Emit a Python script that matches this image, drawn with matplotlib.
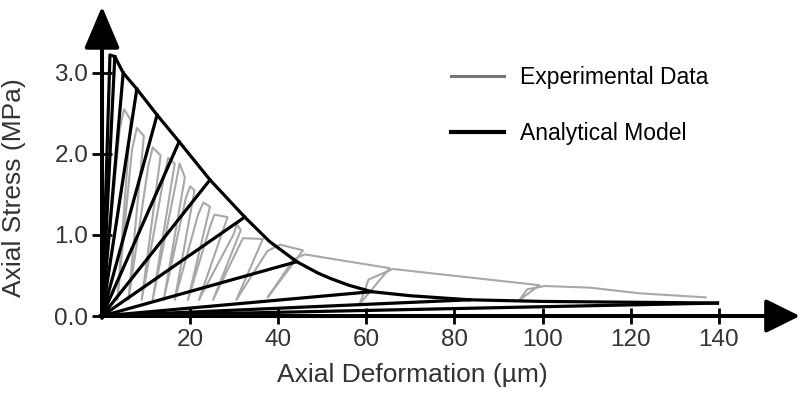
import matplotlib
matplotlib.use("Agg")
import matplotlib.pyplot as plt
from matplotlib.lines import Line2D

plt.rcParams['font.family'] = ['Liberation Sans', 'DejaVu Sans']

# analytical model: backbone (envelope) curve, um / MPa
envelope_x = [0, 1.8, 2.9, 4.8, 7.9, 12.5, 17.5, 24.5, 32.4, 38.0, 44.2, 49.0, 52.0,
              56.0, 61.2, 70.0, 83.4, 100.0, 120.0, 139.7]
envelope_y = [0, 3.22, 3.20, 3.00, 2.80, 2.48, 2.15, 1.68, 1.22, 0.92, 0.67, 0.53, 0.46,
              0.38, 0.30, 0.25, 0.20, 0.18, 0.17, 0.16]

# points on the envelope from which the model unloads back to the origin
unload_x = [2.9, 4.8, 7.9, 12.5, 17.5, 24.5, 32.4, 44.2, 61.2, 83.4, 139.7]
unload_y = [3.20, 3.00, 2.80, 2.48, 2.15, 1.68, 1.22, 0.67, 0.30, 0.20, 0.16]

# experimental cyclic test
exp_x = [0, 4.0, 5.0, 6.5, 3.5,
         6.8, 7.9, 9.5, 6.0,
         10.5, 11.5, 13.3, 9.0,
         14.0, 15.0, 16.5, 11.5,
         16.8, 17.6, 18.8, 14.0,
         19.0, 20.0, 21.0, 16.5,
         21.8, 23.0, 24.5, 19.5,
         24.5, 25.5, 28.5, 22.0,
         29.8, 30.6, 31.5, 25.2,
         31.0, 32.0, 36.5, 30.5,
         37.5, 40.4, 45.6, 37.6,
         43.5, 46.0, 65.3, 58.5,
         60.5, 66.0, 99.3, 94.8,
         96.5, 100.5, 110.7, 122.0, 137.0]
exp_y = [0, 2.30, 2.55, 2.42, 0.20,
         2.05, 2.32, 2.22, 0.20,
         1.85, 2.08, 1.98, 0.20,
         1.70, 1.95, 1.88, 0.20,
         1.65, 1.88, 1.71, 0.20,
         1.45, 1.60, 1.55, 0.20,
         1.25, 1.40, 1.35, 0.20,
         1.10, 1.25, 1.22, 0.20,
         1.00, 1.13, 1.06, 0.20,
         0.85, 0.96, 0.95, 0.20,
         0.80, 0.88, 0.81, 0.23,
         0.70, 0.76, 0.59, 0.15,
         0.45, 0.58, 0.38, 0.20,
         0.33, 0.37, 0.35, 0.28, 0.23]

x_ticks = [20, 40, 60, 80, 100, 120, 140]
y_ticks = [0, 1, 2, 3]
y_labels = ["0.0", "1.0", "2.0", "3.0"]

fig = plt.figure(figsize=(8.04, 3.98), dpi=100)
ax = fig.add_axes([0.1269, 0.206, 0.868, 0.774])

ax.plot(exp_x, exp_y, color="#a8a8a8", lw=1.5, zorder=2)
for ux, uy in zip(unload_x, unload_y):
    ax.plot([0, ux], [0, uy], color="black", lw=2.3, zorder=3)
ax.plot(envelope_x, envelope_y, color="black", lw=2.3, zorder=3)

ax.set_xlim(0, 158.4)
ax.set_ylim(0, 3.8)

for s in ax.spines.values():
    s.set_visible(False)

# axes drawn as arrows
arrow_y = dict(arrowstyle="-|>,head_length=1.3,head_width=0.55", color="black",
               lw=2.9, mutation_scale=20, shrinkA=0, shrinkB=0)
arrow_x = dict(arrowstyle="-|>,head_length=1.05,head_width=0.52", color="black",
               lw=2.9, mutation_scale=20, shrinkA=0, shrinkB=0)
ax.annotate("", xy=(1, 0), xytext=(-0.003, 0), xycoords="axes fraction",
            arrowprops=arrow_x, zorder=5)
ax.annotate("", xy=(0, 1.005), xytext=(0, -0.006), xycoords="axes fraction",
            arrowprops=arrow_y, zorder=5)

ax.set_xticks(x_ticks)
ax.set_yticks(y_ticks)
ax.set_yticklabels(y_labels)
ax.tick_params(axis="x", direction="inout", length=11, width=2, pad=4,
               labelsize=17.5, colors="black", labelcolor="#333333")
ax.tick_params(axis="y", direction="inout", length=14, width=2, pad=3,
               labelsize=17.5, colors="black", labelcolor="#333333")

ax.set_xlabel("Axial Deformation (\u00b5m)", fontsize=19, color="#333333")
ax.set_ylabel("Axial Stress (MPa)", fontsize=19, color="#333333")
ax.xaxis.set_label_coords(0.444, -0.152)
ax.yaxis.set_label_coords(-0.109, 0.416)

handles = [Line2D([], [], color="#777777", lw=2.2),
           Line2D([], [], color="black", lw=3.0)]
ax.legend(handles, ["Experimental Data", "Analytical Model"], frameon=False,
          loc="upper left", bbox_to_anchor=(0.471, 0.88), fontsize=16.5,
          handlelength=2.3, handletextpad=0.7, labelspacing=1.45)

fig.savefig("out.png", dpi=100)
